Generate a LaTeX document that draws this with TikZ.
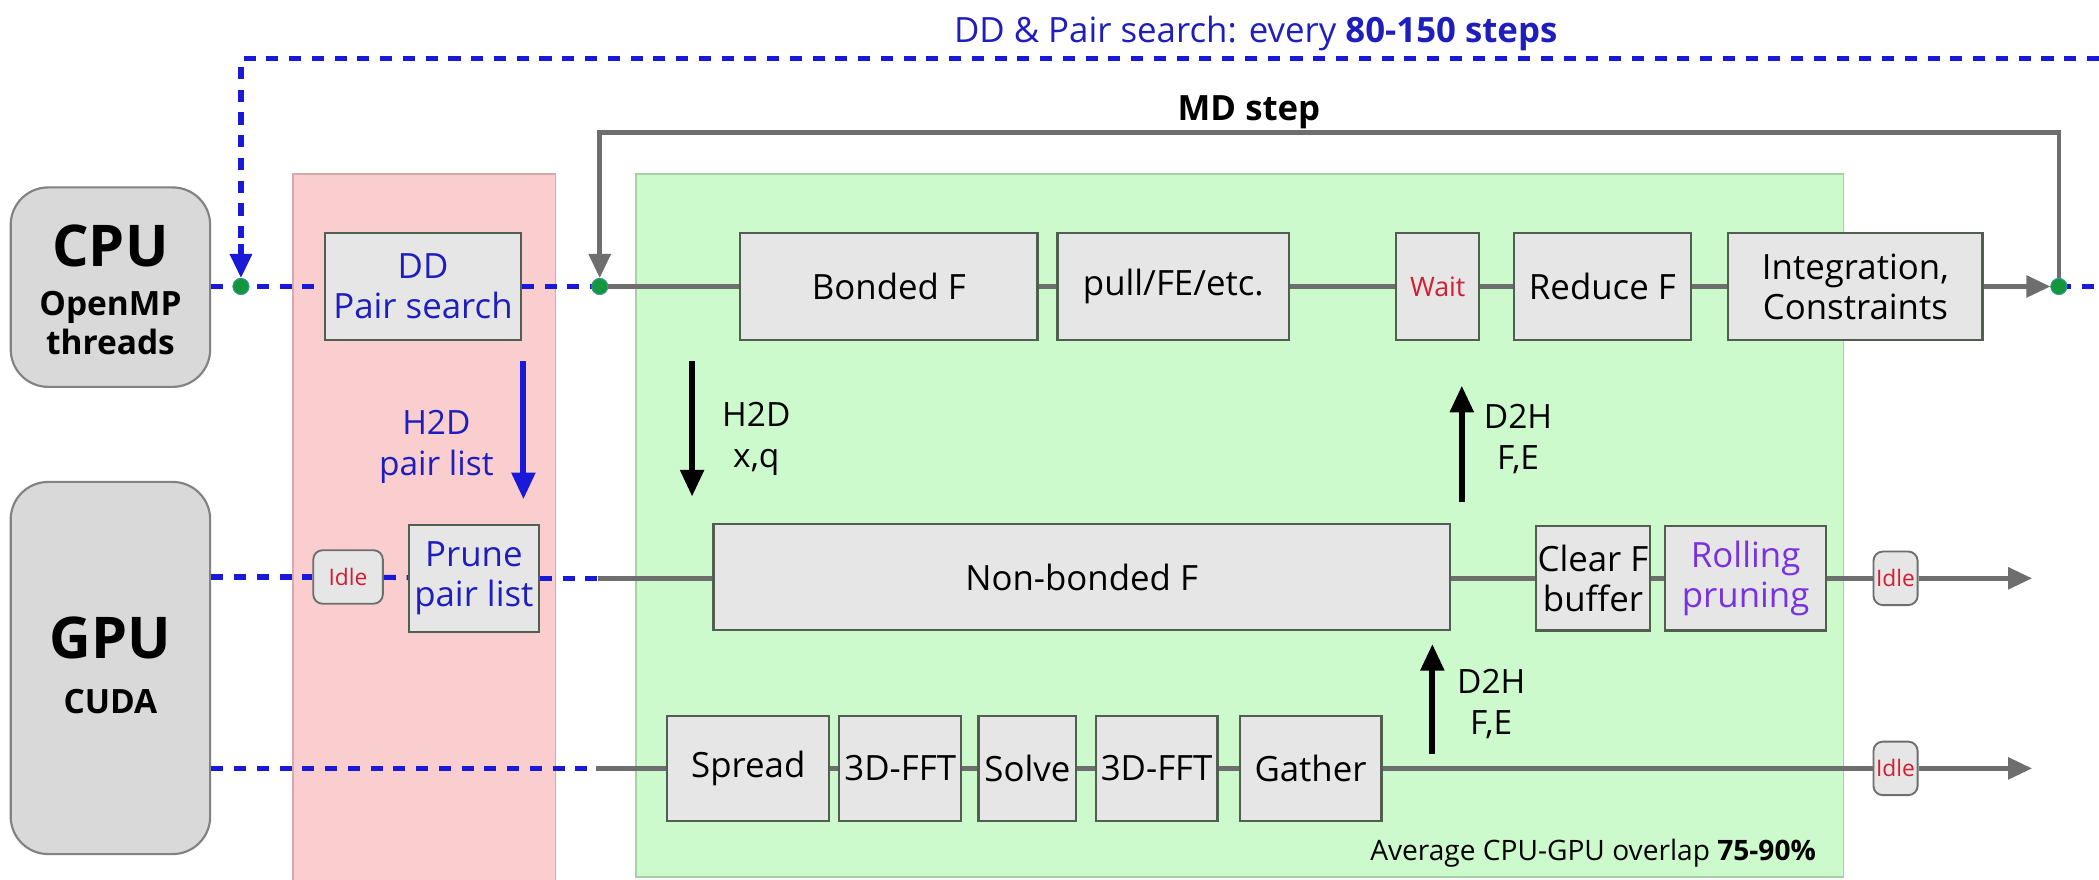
\documentclass[tikz,border=0pt]{standalone}
\usepackage{fontspec}
\setmainfont{Open Sans}
\usetikzlibrary{arrows.meta,calc}

\definecolor{bluedash}{RGB}{25,25,215}
\definecolor{bluetext}{RGB}{30,30,190}
\definecolor{linegray}{RGB}{110,110,110}
\definecolor{boxfill}{RGB}{230,230,230}
\definecolor{boxedge}{RGB}{80,95,80}
\definecolor{pinkbg}{RGB}{250,206,206}
\definecolor{pinkedge}{RGB}{215,170,170}
\definecolor{greenbg}{RGB}{205,250,205}
\definecolor{greenedge}{RGB}{165,210,165}
\definecolor{unitfill}{RGB}{217,217,217}
\definecolor{unitedge}{RGB}{130,130,130}
\definecolor{dotgreen}{RGB}{20,150,60}
\definecolor{idlered}{RGB}{210,30,50}
\definecolor{rollpurple}{RGB}{120,50,225}

\tikzset{
  task/.style={draw=boxedge, fill=boxfill, line width=1.6pt, inner sep=0pt,
    align=center, font=\fontsize{26}{30}\selectfont},
  idlebox/.style={draw=linegray, fill=boxfill, line width=1.4pt, rounded corners=7pt,
    inner sep=0pt, text=idlered, minimum height=40pt, font=\fontsize{17}{19}\selectfont},
  unit/.style={draw=unitedge, fill=unitfill, line width=1.6pt, rounded corners=28pt,
    inner sep=0pt, align=center},
  unitbig/.style={anchor=base, font=\bfseries\fontsize{43}{45}\selectfont},
  unitsmall/.style={anchor=base, font=\bfseries\fontsize{25}{27}\selectfont},
  flow/.style={draw=linegray, line width=3.5pt},
  bdash/.style={draw=bluedash, line width=3.8pt, dash pattern=on 9pt off 8pt},
  gtip/.style={-{Triangle[length=18pt,width=16pt]}},
  xfer/.style={line width=4.5pt, -{Triangle[length=20pt,width=17pt]}},
  lbl/.style={align=center, font=\fontsize{25}{31}\selectfont},
  dot/.style={circle, fill=dotgreen, draw=cyan!40!dotgreen, line width=0.6pt,
    minimum size=12pt, inner sep=0pt},
}

\begin{document}
\begin{tikzpicture}[x=1pt, y=-1pt]
  % canvas
  \fill[white] (0,0) rectangle (1568,657);
  \useasboundingbox (0,0) rectangle (1568,657);

  % phase backgrounds
  \draw[fill=pinkbg, draw=pinkedge, line width=1.2pt] (219,130) rectangle (415,660);
  \draw[fill=greenbg, draw=greenedge, line width=1.2pt] (475,130) rectangle (1377,655);

  % hardware units
  \node[unit, minimum width=149pt, minimum height=149pt] (cpu) at (82.5,214.5) {};
  \node[unitbig] (cpuname) at (82.5,199) {CPU};
  \node[unitsmall] (cpusub1) at (82.5,236) {OpenMP};
  \node[unitsmall] (cpusub2) at (82.5,265) {threads};
  \node[unit, minimum width=149pt, minimum height=278pt] (gpu) at (82.5,499) {};
  \node[unitbig] (gpuname) at (82.5,492) {GPU};
  \node[unitsmall] (gpusub) at (82.5,533) {CUDA};

  % ---- CPU timeline ----
  \node[task, minimum width=146pt, minimum height=80pt, text=bluetext] (dd) at (316,214) {DD\\Pair search};
  \node[task, minimum width=222pt, minimum height=80pt] (bonded) at (664,214) {Bonded F};
  \node[task, minimum width=173pt, minimum height=80pt] (pull) at (876.5,214) {pull/FE/etc.};
  \node[task, minimum width=62pt, minimum height=80pt, text=idlered,
        font=\fontsize{20}{22}\selectfont] (wait) at (1074,214) {Wait};
  \node[task, minimum width=132pt, minimum height=80pt] (reduce) at (1197,214) {Reduce F};
  \node[task, minimum width=190pt, minimum height=80pt] (integ) at (1386,214) {Integration,\\Constraints};

  \coordinate (cpuend) at (1568,214);
  \node[dot] (d1) at (180,214) {};
  \node[dot] (d2) at (448,214) {};
  \node[dot] (d3) at (1538,214) {};

  \draw[bdash] (cpu.east |- d1) -- (dd.west);
  \draw[bdash] (dd.east) -- (d2.center);
  \draw[bdash] (d3.center) -- (cpuend);
  \draw[flow] (d2.center) -- (bonded);
  \draw[flow] (bonded) -- (pull);
  \draw[flow] (pull) -- (wait);
  \draw[flow] (wait) -- (reduce);
  \draw[flow] (reduce) -- (integ);
  \draw[flow, gtip] (integ) -- (d3);

  % MD step loop
  \coordinate (loopl) at (448,99);
  \coordinate (loopr) at (1538,99);
  \draw[flow, gtip] (d3.center) -- (loopr) -- (loopl) -- (d2);
  \node[anchor=base, font=\bfseries\fontsize{26}{28}\selectfont] (md) at (933,90) {MD step};

  % domain decomposition / pair search loop
  \coordinate (topl) at (180,44);
  \coordinate (topr) at (1568,44);
  \draw[bdash] (topr) -- (topl) -- ($(d1)+(0,-30)$);
  \draw[draw=bluedash, line width=3.8pt, -{Triangle[length=18pt,width=16pt]}]
    ($(d1)+(0,-32)$) -- (d1);
  \node[anchor=base, text=bluetext, font=\fontsize{26}{28}\selectfont] (ddtext) at (938,32)
    {DD \& Pair search: every \textbf{80-150 steps}};

  \node[dot] at (d1) {};
  \node[dot] at (d2) {};
  \node[dot] at (d3) {};

  % ---- GPU non-bonded stream ----
  \node[idlebox, minimum width=52pt] (idle1) at (260,431) {Idle};
  \node[task, minimum width=97pt, minimum height=80pt, text=bluetext] (prune) at (354,432) {Prune\\pair list};
  \node[task, minimum width=550pt, minimum height=79pt] (nonb) at (808,431) {Non-bonded F};
  \node[task, minimum width=85pt, minimum height=78pt] (clear) at (1190,432) {Clear F\\buffer};
  \node[task, minimum width=120pt, minimum height=78pt, text=rollpurple] (roll) at (1304,432) {Rolling\\pruning};
  \node[idlebox, minimum width=33pt] (idle2) at (1416,432) {Idle};
  \coordinate (g1) at (447,432);
  \coordinate (end1) at (1518,432);

  \draw[bdash] (gpu.east |- idle1) -- (idle1);
  \draw[bdash] (idle1) -- (prune);
  \draw[bdash] (prune.east |- g1) -- (g1);
  \draw[flow] (g1) -- (nonb.west |- g1);
  \draw[flow] (nonb.east |- g1) -- (clear);
  \draw[flow] (clear) -- (roll);
  \draw[flow] (roll) -- (idle2);
  \draw[flow, gtip] (idle2) -- (end1);

  % ---- GPU PME stream ----
  \node[task, minimum width=121pt, minimum height=78pt] (spread) at (559,574) {Spread};
  \node[task, minimum width=91pt, minimum height=78pt] (fftA) at (672.5,574) {3D-FFT};
  \node[task, minimum width=73pt, minimum height=78pt] (solve) at (767.5,574) {Solve};
  \node[task, minimum width=91pt, minimum height=78pt] (fftB) at (864,574) {3D-FFT};
  \node[task, minimum width=106pt, minimum height=78pt] (gather) at (979,574) {Gather};
  \node[idlebox, minimum width=33pt] (idle3) at (1416,574) {Idle};
  \coordinate (g2) at (445,574);
  \coordinate (end2) at (1518,574);

  \draw[bdash] (gpu.east |- g2) -- (g2);
  \draw[flow] (g2) -- (spread);
  \draw[flow] (spread) -- (fftA);
  \draw[flow] (fftA) -- (solve);
  \draw[flow] (solve) -- (fftB);
  \draw[flow] (fftB) -- (gather);
  \draw[flow] (gather) -- (idle3);
  \draw[flow, gtip] (idle3) -- (end2);

  % ---- host/device transfers ----
  \coordinate (plA) at (391,270);
  \coordinate (plB) at (391,373);
  \draw[xfer, bluedash] (plA) -- (plB);
  \node[lbl, text=bluetext] (pltext) at (326,334) {H2D\\pair list};

  \coordinate (xqA) at (517,270);
  \coordinate (xqB) at (517,371);
  \draw[xfer, black] (xqA) -- (xqB);
  \node[lbl] (xqtext) at (565,328) {H2D\\x,q};

  \coordinate (feA) at (1092,375);
  \coordinate (feB) at (1092,288);
  \draw[xfer, black] (feA) -- (feB);
  \node[lbl] (fetext) at (1134,328) {D2H\\F,E};

  \coordinate (pmeA) at (1070,563);
  \coordinate (pmeB) at (1070,481);
  \draw[xfer, black] (pmeA) -- (pmeB);
  \node[lbl] (pmetext) at (1114,526) {D2H\\F,E};

  % overlap note
  \node[anchor=east, font=\fontsize{21}{23}\selectfont] (overlap) at (1360,637)
    {Average CPU-GPU overlap \textbf{75-90\%}};
\end{tikzpicture}
\end{document}
